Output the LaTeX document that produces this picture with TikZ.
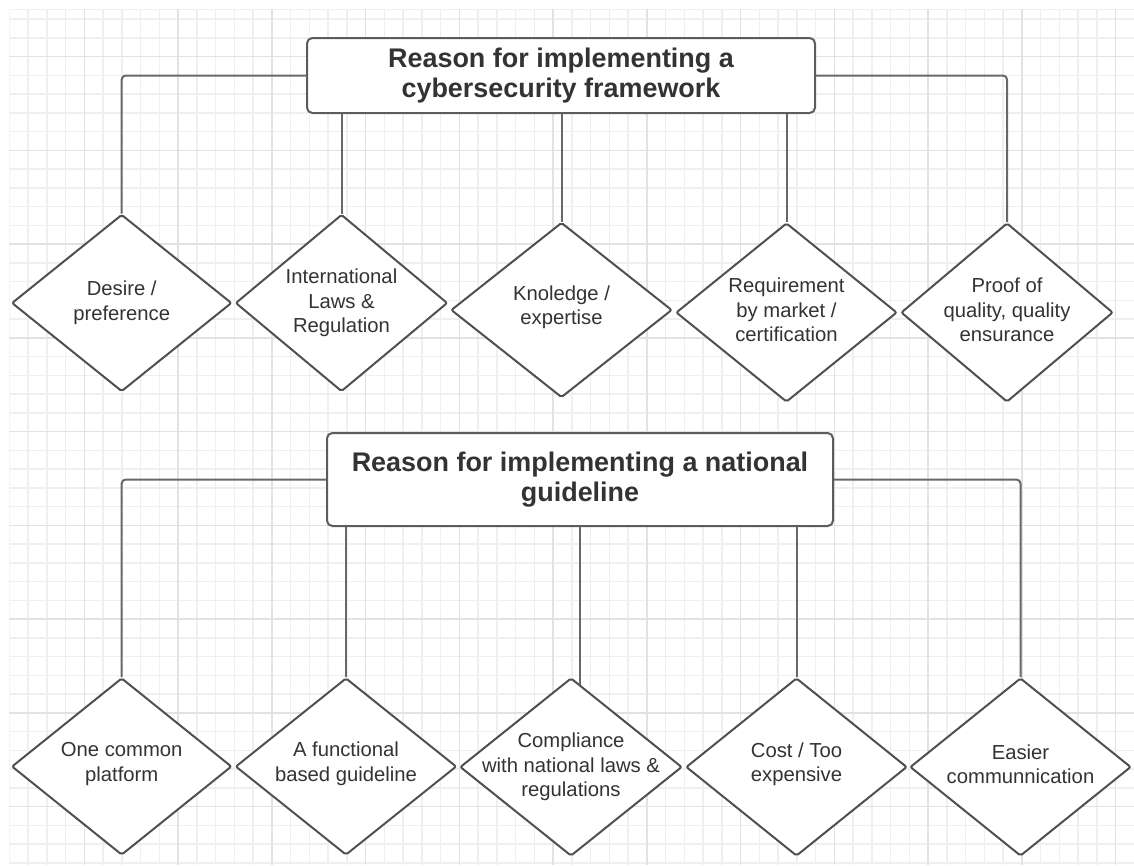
\documentclass[tikz,border=0pt]{standalone}
\usepackage{fontspec}
\setmainfont{Liberation Sans}
\usetikzlibrary{shapes.geometric}

\definecolor{gridminor}{HTML}{EFEFEF}
\definecolor{gridmajor}{HTML}{E2E2E2}
\definecolor{boxline}{HTML}{5C5C5C}
\definecolor{wireline}{HTML}{686868}
\definecolor{diamline}{HTML}{505050}
\definecolor{inktext}{HTML}{333333}

\newcommand{\headfont}{\bfseries\fontsize{20.2}{23}\selectfont}
\newcommand{\itemfont}{\fontsize{15.2}{18.5}\selectfont}

\begin{document}
\begin{tikzpicture}[
  x=0.75pt, y=-0.75pt,
  headbox/.style 2 args={rectangle, rounded corners=4pt, draw=boxline,
    line width=1.5pt, fill=white, align=center, font=\headfont,
    text=inktext, inner sep=0pt,
    minimum width=#1*0.75pt, minimum height=#2*0.75pt},
  dia/.style 2 args={diamond, draw=diamline, line width=1.5pt, fill=white,
    inner sep=0pt, rounded corners=1.5pt,
    minimum width=#1*0.75pt, minimum height=#2*0.75pt},
  dtext/.style={align=center, font=\itemfont, text=inktext, inner sep=0pt},
  wire/.style={draw=wireline, line width=1.5pt, rounded corners=3pt},
  minorline/.style={draw=gridminor, line width=1.1pt},
  majorline/.style={draw=gridmajor, line width=1.1pt}
]
\useasboundingbox (0,0) rectangle (1134,865);

% background grid paper
\begin{scope}
  \clip (9.3,8.5) rectangle (1134,865);
  \foreach \k in {0,...,60} \draw[minorline] (9.3+18.75*\k,8.5) -- (9.3+18.75*\k,865);
  \foreach \k in {1,...,46} \draw[minorline] (9.3,0.45+18.75*\k) -- (1134,0.45+18.75*\k);
  \draw[minorline] (9.3,9.3) -- (1134,9.3);
  \foreach \k in {4,9,...,59} \draw[majorline] (9.3+18.75*\k,8.5) -- (9.3+18.75*\k,865);
  \foreach \k in {3,8,...,43} \draw[majorline] (9.3,0.45+18.75*\k) -- (1134,0.45+18.75*\k);
\end{scope}

% first tree: framework
\node[headbox={508}{75}] (B1) at (561,75.5)
  {Reason for implementing a\\cybersecurity framework};

\node[dia={220}{177}] (D1) at (121.7,303) {};
\node[dia={212}{177}] (D2) at (341.5,303) {};
\node[dia={221}{175}] (D3) at (561.5,310) {};
\node[dia={221}{179}] (D4) at (786.5,312.5) {};
\node[dia={212}{179}] (D5) at (1007,312.5) {};

\node[dtext] (T1) at (D1) {Desire /\\preference};
\node[dtext] (T2) at (D2) {International\\Laws \&\\Regulation};
\node[dtext] (T3) at ([yshift=2pt]D3.center) {Knoledge /\\expertise};
\node[dtext] (T4) at ([yshift=2pt]D4.center) {Requirement\\by market /\\certification};
\node[dtext] (T5) at ([yshift=2pt]D5.center) {Proof of\\quality, quality\\ensurance};

\draw[wire] (B1.west) -| (D1.north);
\draw[wire] (B1.east) -| (D5.north);
\draw[wire] (D2.north |- B1.south) -- (D2.north);
\draw[wire] (D3.north |- B1.south) -- (D3.north);
\draw[wire] (D4.north |- B1.south) -- (D4.north);

% second tree: national guideline
\node[headbox={506}{93}] (B2) at (580,479.5)
  {Reason for implementing a national\\guideline};

\node[dia={220}{177}] (D6) at (121.7,766.5) {};
\node[dia={221}{177}] (D7) at (346,766.5) {};
\node[dia={222}{178}] (D8) at (571,767) {};
\node[dia={221}{178}] (D9) at (796.5,767) {};
\node[dia={221}{178}] (D10) at (1020.5,767) {};

\node[dtext] (T6) at ([yshift=2pt]D6.center) {One common\\platform};
\node[dtext] (T7) at ([yshift=2pt]D7.center) {A functional\\based guideline};
\node[dtext] (T8) at (D8) {Compliance\\with national laws \&\\regulations};
\node[dtext] (T9) at ([yshift=2pt]D9.center) {Cost / Too\\expensive};
\node[dtext] (T10) at ([yshift=2pt]D10.center) {Easier\\communnication};

\draw[wire] (B2.west) -| (D6.north);
\draw[wire] (B2.east) -| (D10.north);
\draw[wire] (D7.north |- B2.south) -- (D7.north);
\draw[wire] (B2.south) -- (B2.south |- D8.83.7);
\draw[wire] (D9.north |- B2.south) -- (D9.north);
\end{tikzpicture}
\end{document}
